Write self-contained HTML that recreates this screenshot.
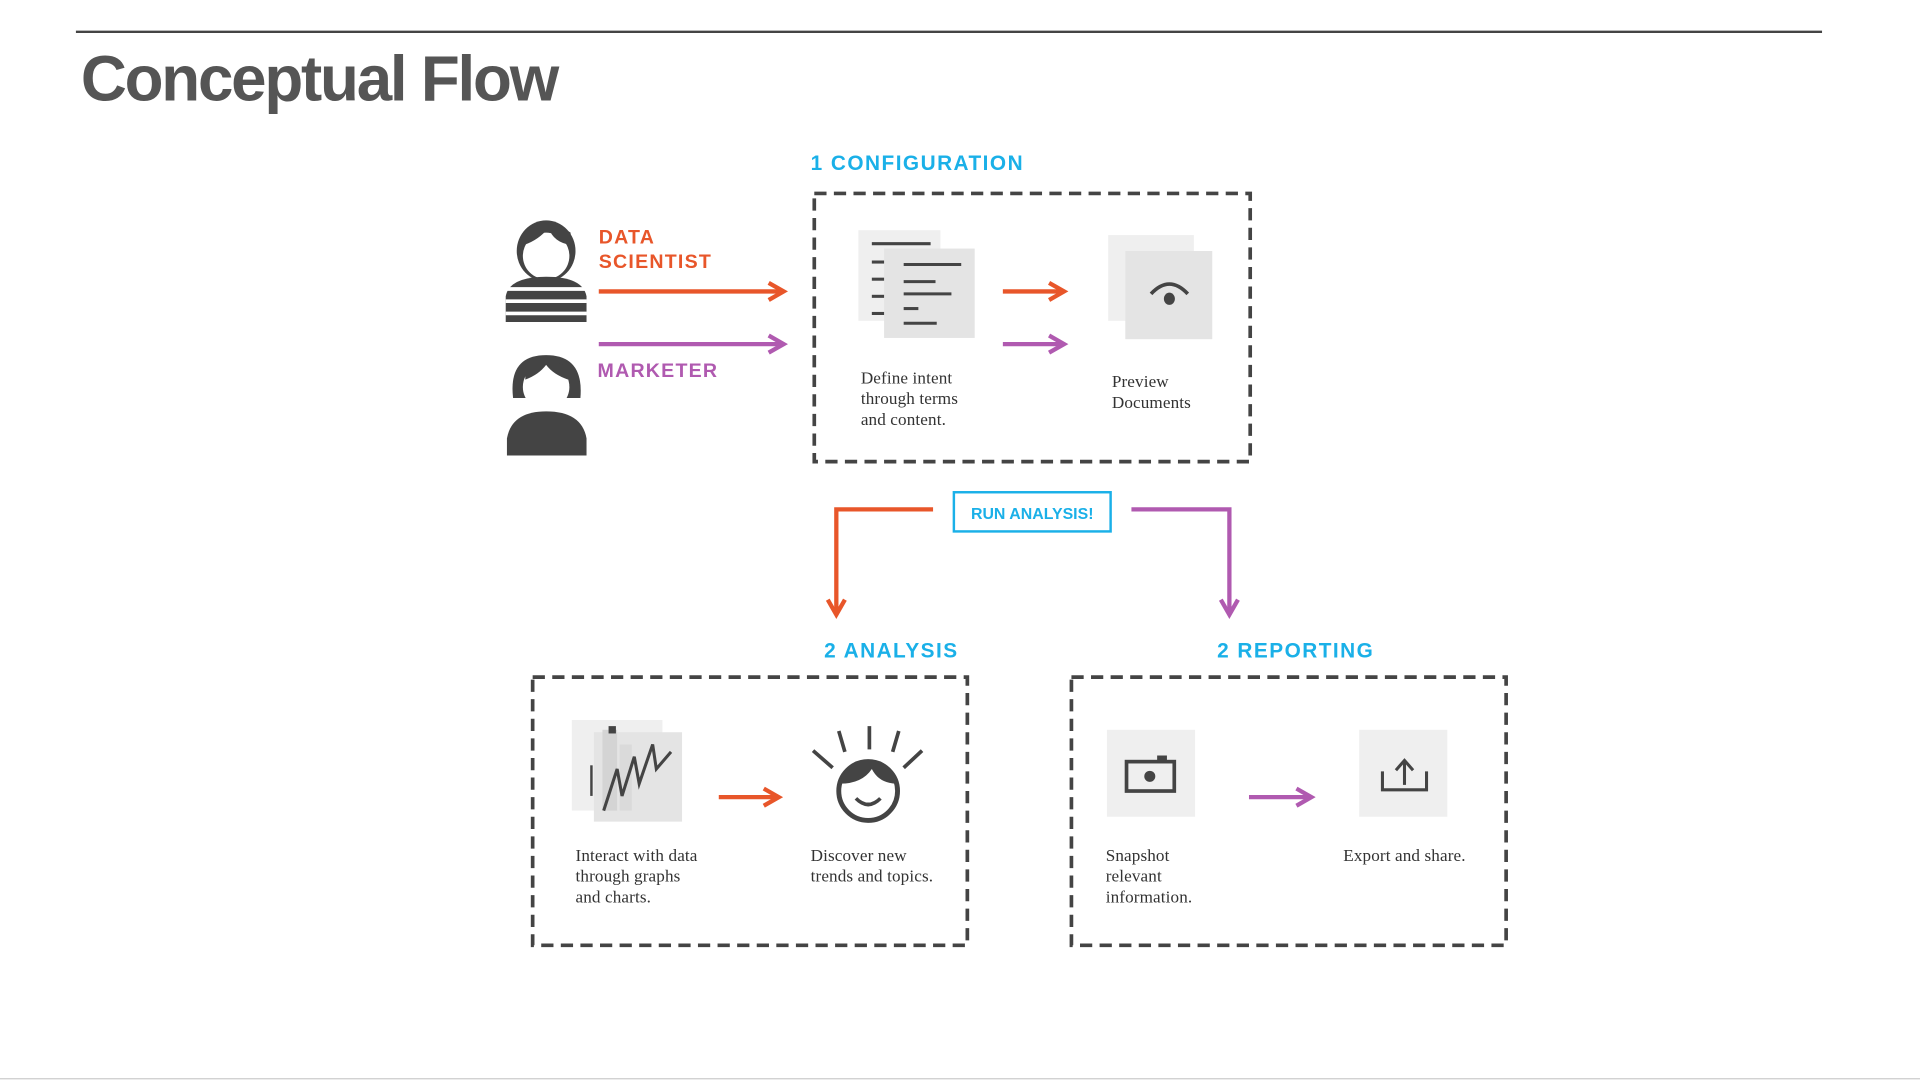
<!DOCTYPE html>
<html><head><meta charset="utf-8"><style>
html,body{margin:0;padding:0;background:#fff;width:1920px;height:1080px;overflow:hidden}
svg{display:block}
.s{font-family:"Liberation Serif",serif;font-size:14px;fill:#333;letter-spacing:0.1px}
.h{font-family:"Liberation Sans",sans-serif;font-weight:bold}
</style></head><body>
<svg width="1920" height="1080" viewBox="0 0 1568 882" xmlns="http://www.w3.org/2000/svg">
<defs>
<marker id="ao" viewBox="0 0 10 10" refX="8" refY="5" markerWidth="5" markerHeight="5" orient="auto"><path d="M1,1 L8,5 L1,9" fill="none" stroke="#e8562a" stroke-width="2"/></marker>
<marker id="ap" viewBox="0 0 10 10" refX="8" refY="5" markerWidth="5" markerHeight="5" orient="auto"><path d="M1,1 L8,5 L1,9" fill="none" stroke="#b05ab0" stroke-width="2"/></marker>
</defs>
<line x1="62" y1="26" x2="1488" y2="26" stroke="#444" stroke-width="2"/>
<text x="66" y="82" class="h" font-size="52" fill="#555" letter-spacing="-1.8">Conceptual Flow</text>
<line x1="0" y1="881" x2="1568" y2="881" stroke="#ccc" stroke-width="1"/>

<text x="662" y="139" class="h" font-size="17" fill="#1ab0e8" letter-spacing="1.2">1 CONFIGURATION</text>
<rect x="665" y="158" width="356" height="219" fill="none" stroke="#444" stroke-width="3" stroke-dasharray="10 6"/>

<ellipse cx="446" cy="205" rx="24" ry="25" fill="#444"/>
<ellipse cx="446" cy="209" rx="19" ry="19" fill="#fff"/>
<path d="M428,200 Q440,196 448,186 Q452,198 466,200 L466,190 Q446,176 428,190Z" fill="#444"/>
<path d="M413,263 L413,242 Q416,226 446,226 Q476,226 479,242 L479,263Z" fill="#444"/>
<g stroke="#fff" stroke-width="3"><line x1="413" y1="236" x2="479" y2="236"/><line x1="413" y1="246" x2="479" y2="246"/><line x1="413" y1="256" x2="479" y2="256"/></g>
<path d="M419,325 Q415,290 446,290 Q477,290 474,325Z" fill="#444"/>
<ellipse cx="446" cy="316" rx="19" ry="19" fill="#fff"/>
<path d="M429,310 Q440,306 446,298 Q452,306 464,310 L464,300 Q446,290 429,300Z" fill="#444"/>
<path d="M414,372 L414,358 Q418,336 446,336 Q475,336 479,358 L479,372Z" fill="#444"/>

<text x="489" y="199" class="h" font-size="16" fill="#e8562a" letter-spacing="1">DATA</text>
<text x="489" y="219" class="h" font-size="16" fill="#e8562a" letter-spacing="1">SCIENTIST</text>
<text x="488" y="308" class="h" font-size="16" fill="#b05ab0" letter-spacing="1">MARKETER</text>
<line x1="489" y1="238" x2="640" y2="238" stroke="#e8562a" stroke-width="3.5" marker-end="url(#ao)"/>
<line x1="489" y1="281" x2="640" y2="281" stroke="#b05ab0" stroke-width="3.5" marker-end="url(#ap)"/>

<rect x="701" y="188" width="67" height="74" fill="#efefef"/>
<rect x="722" y="203" width="74" height="73" fill="#e4e4e4"/>
<g stroke="#444" stroke-width="2.5">
<line x1="712" y1="199" x2="760" y2="199"/>
<line x1="712" y1="214" x2="722" y2="214"/><line x1="738" y1="216" x2="785" y2="216"/>
<line x1="712" y1="228" x2="722" y2="228"/><line x1="738" y1="230" x2="764" y2="230"/>
<line x1="712" y1="242" x2="722" y2="242"/><line x1="738" y1="240" x2="777" y2="240"/>
<line x1="712" y1="256" x2="722" y2="256"/><line x1="738" y1="252" x2="750" y2="252"/>
<line x1="738" y1="264" x2="765" y2="264"/>
</g>
<line x1="819" y1="238" x2="869" y2="238" stroke="#e8562a" stroke-width="3.5" marker-end="url(#ao)"/>
<line x1="819" y1="281" x2="869" y2="281" stroke="#b05ab0" stroke-width="3.5" marker-end="url(#ap)"/>
<rect x="905" y="192" width="70" height="70" fill="#efefef"/>
<rect x="919" y="205" width="71" height="72" fill="#e4e4e4"/>
<path d="M940,240 Q955,224 970,240" fill="none" stroke="#444" stroke-width="3"/>
<ellipse cx="955" cy="244" rx="4.5" ry="5" fill="#444"/>

<text class="s"><tspan x="703" y="313">Define intent</tspan><tspan x="703" y="330">through terms</tspan><tspan x="703" y="347">and content.</tspan></text>
<text class="s"><tspan x="908" y="316">Preview</tspan><tspan x="908" y="333">Documents</tspan></text>

<rect x="779" y="402" width="128" height="32" fill="#fff" stroke="#1ab0e8" stroke-width="2"/>
<text x="843" y="424" text-anchor="middle" class="h" font-size="13" fill="#1ab0e8">RUN ANALYSIS!</text>
<polyline points="762,416 683,416 683,502" fill="none" stroke="#e8562a" stroke-width="3.5" marker-end="url(#ao)"/>
<polyline points="924,416 1004,416 1004,502" fill="none" stroke="#b05ab0" stroke-width="3.5" marker-end="url(#ap)"/>

<text x="673" y="537" class="h" font-size="17" fill="#1ab0e8" letter-spacing="1.2">2 ANALYSIS</text>
<text x="994" y="537" class="h" font-size="17" fill="#1ab0e8" letter-spacing="1.2">2 REPORTING</text>
<rect x="435" y="553" width="355" height="219" fill="none" stroke="#444" stroke-width="3" stroke-dasharray="10 6"/>
<rect x="875" y="553" width="355" height="219" fill="none" stroke="#444" stroke-width="3" stroke-dasharray="10 6"/>

<rect x="467" y="588" width="74" height="74" fill="#efefef"/>
<rect x="485" y="598" width="72" height="73" fill="#e4e4e4"/>
<rect x="492" y="596" width="12" height="66" fill="#d4d4d4"/>
<rect x="506" y="608" width="10" height="54" fill="#dadada"/>
<rect x="497" y="593" width="6" height="6" fill="#444"/>
<line x1="483" y1="625" x2="483" y2="650" stroke="#444" stroke-width="2"/>
<polyline points="493,662 504,628 508,650 518,618 522,640 533,608 536,628 548,614" fill="none" stroke="#444" stroke-width="2.5"/>
<line x1="587" y1="651" x2="636" y2="651" stroke="#e8562a" stroke-width="3.5" marker-end="url(#ao)"/>
<circle cx="709" cy="646" r="24" fill="#fff" stroke="#444" stroke-width="4"/>
<path d="M686,640 Q690,622 709,622 Q730,622 733,640 Q718,640 712,628 Q704,640 686,640Z" fill="#444"/>
<path d="M699,652 Q709,662 719,652" fill="none" stroke="#444" stroke-width="3"/>
<g stroke="#444" stroke-width="3"><line x1="710" y1="593" x2="710" y2="612"/><line x1="685" y1="597" x2="690" y2="614"/><line x1="734" y1="597" x2="729" y2="614"/><line x1="664" y1="613" x2="680" y2="627"/><line x1="753" y1="613" x2="738" y2="627"/></g>

<rect x="904" y="596" width="72" height="71" fill="#efefef"/>
<rect x="920" y="622" width="39" height="24" fill="none" stroke="#444" stroke-width="3"/>
<rect x="945" y="617" width="8" height="6" fill="#444"/>
<circle cx="939" cy="634" r="4.5" fill="#444"/>
<line x1="1020" y1="651" x2="1071" y2="651" stroke="#b05ab0" stroke-width="3.5" marker-end="url(#ap)"/>
<rect x="1110" y="596" width="72" height="71" fill="#efefef"/>
<polyline points="1129,630 1129,645 1165,645 1165,630" fill="none" stroke="#444" stroke-width="2.5"/>
<line x1="1147" y1="641" x2="1147" y2="622" stroke="#444" stroke-width="2.5"/>
<polyline points="1140,629 1147,621 1154,629" fill="none" stroke="#444" stroke-width="2.5"/>

<text class="s"><tspan x="470" y="703">Interact with data</tspan><tspan x="470" y="720">through graphs</tspan><tspan x="470" y="737">and charts.</tspan></text>
<text class="s"><tspan x="662" y="703">Discover new</tspan><tspan x="662" y="720">trends and topics.</tspan></text>
<text class="s"><tspan x="903" y="703">Snapshot</tspan><tspan x="903" y="720">relevant</tspan><tspan x="903" y="737">information.</tspan></text>
<text class="s"><tspan x="1097" y="703">Export and share.</tspan></text>
</svg>
</body></html>
